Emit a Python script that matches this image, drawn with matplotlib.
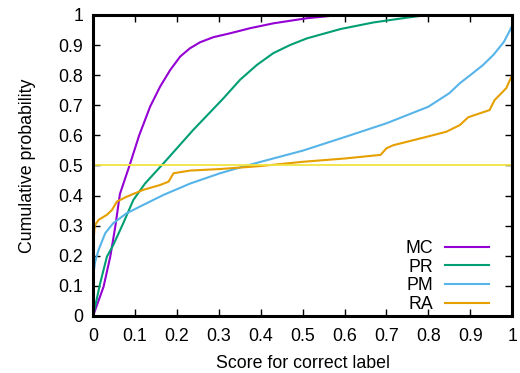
import matplotlib
matplotlib.use("Agg")
import matplotlib.pyplot as plt

plt.rcParams["font.family"] = ["Liberation Sans", "DejaVu Sans"]

# values
mc_x = [0, 0.025, 0.041, 0.053, 0.064, 0.087, 0.11, 0.136, 0.16, 0.184, 0.208, 0.231, 0.255, 0.287, 0.327, 0.375, 0.43, 0.51, 0.59]
mc_y = [0, 0.097, 0.197, 0.297, 0.405, 0.5, 0.6, 0.695, 0.762, 0.817, 0.862, 0.889, 0.909, 0.926, 0.939, 0.956, 0.972, 0.989, 1.0]

pr_x = [0, 0.017, 0.033, 0.048, 0.072, 0.096, 0.124, 0.168, 0.239, 0.311, 0.351, 0.391, 0.43, 0.47, 0.51, 0.59, 0.669, 0.749, 0.8]
pr_y = [0, 0.109, 0.197, 0.235, 0.308, 0.385, 0.44, 0.507, 0.618, 0.723, 0.785, 0.834, 0.873, 0.9, 0.922, 0.953, 0.975, 0.991, 1.0]

pm_x = [0, 0.005, 0.013, 0.029, 0.048, 0.08, 0.12, 0.168, 0.232, 0.303, 0.35, 0.4, 0.5, 0.6, 0.7, 0.8, 0.85, 0.875, 0.9, 0.93, 0.955, 0.98, 0.995, 1.0]
pm_y = [0.13, 0.18, 0.219, 0.275, 0.308, 0.341, 0.369, 0.402, 0.44, 0.474, 0.493, 0.512, 0.549, 0.594, 0.64, 0.695, 0.74, 0.773, 0.8, 0.833, 0.867, 0.91, 0.95, 0.965]

ra_x = [0, 0.004, 0.013, 0.033, 0.045, 0.057, 0.08, 0.12, 0.16, 0.18, 0.192, 0.232, 0.303, 0.4, 0.5, 0.6, 0.686, 0.7, 0.716, 0.796, 0.843, 0.875, 0.895, 0.946, 0.958, 0.97, 0.986, 0.995, 1.0]
ra_y = [0.23, 0.3, 0.319, 0.336, 0.352, 0.38, 0.396, 0.419, 0.435, 0.446, 0.474, 0.483, 0.488, 0.498, 0.512, 0.523, 0.535, 0.557, 0.567, 0.595, 0.612, 0.634, 0.66, 0.684, 0.717, 0.734, 0.757, 0.785, 0.80]

series = [("MC", mc_x, mc_y, "#9400d3"),
          ("PR", pr_x, pr_y, "#009e73"),
          ("PM", pm_x, pm_y, "#56b4e9"),
          ("RA", ra_x, ra_y, "#e69f00")]

fs = 12.8

fig = plt.figure(figsize=(5.2, 3.73), dpi=100)
ax = fig.add_axes([0.179, 0.153, 0.806, 0.807])

for name, xs, ys, col in series:
    ax.plot(xs, ys, color=col, lw=1.5, label=name)
ax.axhline(0.5, color="#f0e442", lw=1.3)

ax.set_xlim(0, 1)
ax.set_ylim(0, 1)
ticks = [i / 10 for i in range(11)]
labels = ["0"] + ["%.1f" % t for t in ticks[1:-1]] + ["1"]
ax.set_xticks(ticks)
ax.set_xticklabels(labels)
ax.set_yticks(ticks)
ax.set_yticklabels(labels)
ax.tick_params(direction="in", length=5, width=1, top=True, right=True, labelsize=fs)
ax.tick_params(axis="x", pad=9)
ax.tick_params(axis="y", pad=7)
for s in ax.spines.values():
    s.set_linewidth(2.2)

ax.set_xlabel("Score for correct label", fontsize=fs, labelpad=7)
ax.set_ylabel("Cumulative probability", fontsize=fs, labelpad=16)

ax.legend(loc="lower right", bbox_to_anchor=(0.975, -0.032), frameon=False, markerfirst=False,
          fontsize=fs, handlelength=2.5, handletextpad=0.65, labelspacing=0.1,
          borderaxespad=0.3)

fig.savefig("out.png", dpi=100)
